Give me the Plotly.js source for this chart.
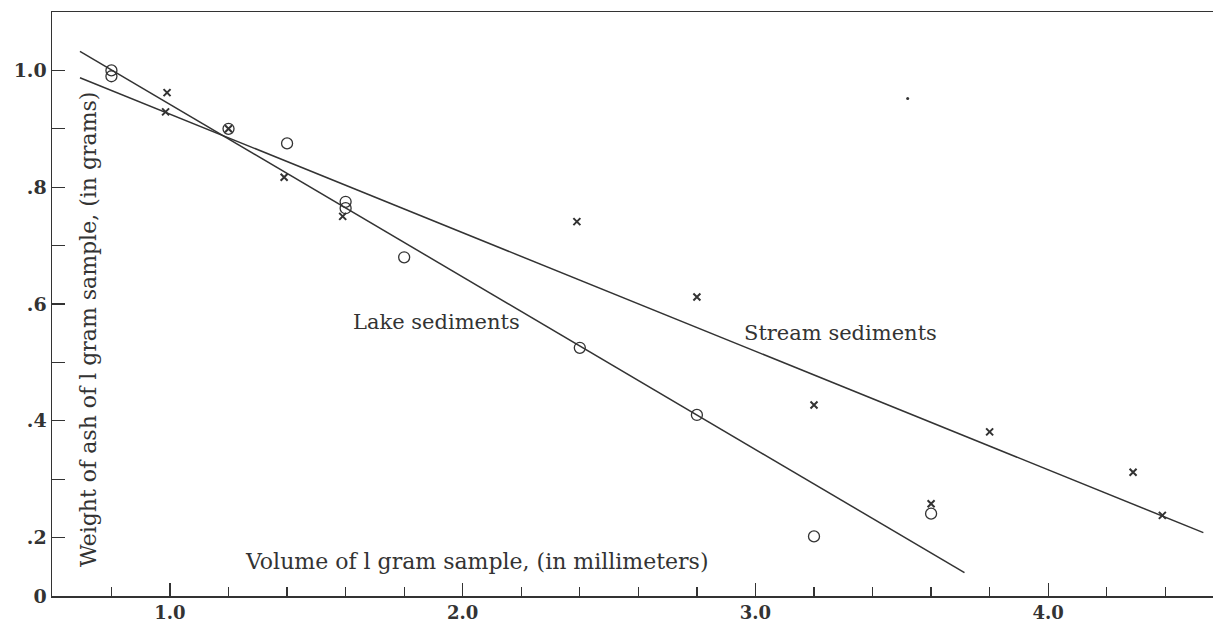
<!DOCTYPE html>
<html>
<head>
<meta charset="utf-8">
<script src="https://cdn.plot.ly/plotly-3.0.1.min.js"></script>
<style>html,body{margin:0;padding:0;background:#fff;}#chart{width:1213px;height:622px;}</style>
</head>
<body>
<div id="chart"></div>
<script>
// Lake sediments (open circles)
const lakeX = [0.8, 0.8, 1.2, 1.4, 1.6, 1.6, 1.8, 2.4, 2.8, 3.2, 3.6];
const lakeY = [1.0, 0.99, 0.90, 0.875, 0.775, 0.764, 0.68, 0.525, 0.41, 0.202, 0.241];
// Stream sediments (crosses)
const streamX = [0.99, 0.985, 1.2, 1.39, 1.59, 2.39, 2.8, 3.2, 3.6, 3.8, 4.29, 4.39];
const streamY = [0.962, 0.929, 0.90, 0.817, 0.75, 0.741, 0.612, 0.427, 0.258, 0.381, 0.312, 0.238];
// Fitted lines (end points)
const lakeLineX = [0.6925, 3.714];
const lakeLineY = [1.0325, 0.14];
const streamLineX = [0.6925, 4.53];
const streamLineY = [0.9875, 0.2085];
// stray dot in the original
const dotX = [3.52];
const dotY = [0.952];
// tick labels
const xTickVals = [1, 2, 3, 4];
const xTickText = ['1.0', '2.0', '3.0', '4.0'];
const yTickVals = [0.1, 0.2, 0.4, 0.6, 0.8, 1.0];
const yTickText = ['0', '.2', '.4', '.6', '.8', '1.0'];

const ink = '#333';
const font = 'DejaVu Serif, Liberation Serif, serif';

const traces = [
  {x: lakeLineX, y: lakeLineY, mode: 'lines', line: {color: ink, width: 1.5}, name: 'Lake fit', hoverinfo: 'skip'},
  {x: streamLineX, y: streamLineY, mode: 'lines', line: {color: ink, width: 1.5}, name: 'Stream fit', hoverinfo: 'skip'},
  {x: lakeX, y: lakeY, mode: 'markers', name: 'Lake sediments',
   marker: {symbol: 'circle-open', size: 11, color: ink, line: {width: 1.3, color: ink}}},
  {x: streamX, y: streamY, mode: 'markers', name: 'Stream sediments',
   marker: {symbol: 'x-thin', size: 7, color: ink, line: {width: 2, color: ink}}},
  {x: dotX, y: dotY, mode: 'markers', name: 'dot', marker: {symbol: 'circle', size: 3, color: ink}}
];

const layout = {
  width: 1213, height: 622,
  margin: {l: 52, r: 0, t: 12, b: 26},
  paper_bgcolor: '#fff', plot_bgcolor: '#fff',
  showlegend: false,
  font: {family: font, color: ink, size: 18},
  xaxis: {
    range: [0.597, 4.563], showgrid: false, zeroline: false,
    showline: true, linecolor: ink, linewidth: 1.5, mirror: true,
    ticks: 'inside', ticklen: 13, tickwidth: 1.2, tickcolor: ink,
    tickvals: xTickVals, ticktext: xTickText,
    tickfont: {family: font, size: 18, color: ink, weight: 'bold'},
    minor: {dtick: 0.2, tick0: 0, ticks: 'inside', ticklen: 9, tickwidth: 1.2, tickcolor: ink, showgrid: false}
  },
  yaxis: {
    range: [0.1, 1.1], showgrid: false, zeroline: false,
    showline: true, linecolor: ink, linewidth: 1.5,
    ticks: 'inside', ticklen: 13, tickwidth: 1.2, tickcolor: ink,
    tickvals: yTickVals, ticktext: yTickText,
    tickfont: {family: font, size: 19, color: ink, weight: 'bold'},
    minor: {dtick: 0.1, tick0: 0, ticks: 'inside', ticklen: 13, tickwidth: 1.2, tickcolor: ink, showgrid: false}
  },
  annotations: [
    {x: 1.912, y: 0.569, xref: 'x', yref: 'y', text: 'Lake sediments', showarrow: false,
     font: {family: font, size: 21, color: ink}},
    {x: 3.289, y: 0.55, xref: 'x', yref: 'y', text: 'Stream sediments', showarrow: false,
     font: {family: font, size: 21, color: ink}},
    {x: 2.047, y: 0.159, xref: 'x', yref: 'y', text: 'Volume of l gram sample, (in millimeters)', showarrow: false,
     font: {family: font, size: 22, color: ink}},
    {x: 0.72, y: 0.557, xref: 'x', yref: 'y', text: 'Weight of ash of l gram sample, (in grams)', showarrow: false,
     textangle: -90, font: {family: font, size: 22, color: ink}}
  ]
};

Plotly.newPlot('chart', traces, layout, {displayModeBar: false, staticPlot: true});
</script>
</body>
</html>
